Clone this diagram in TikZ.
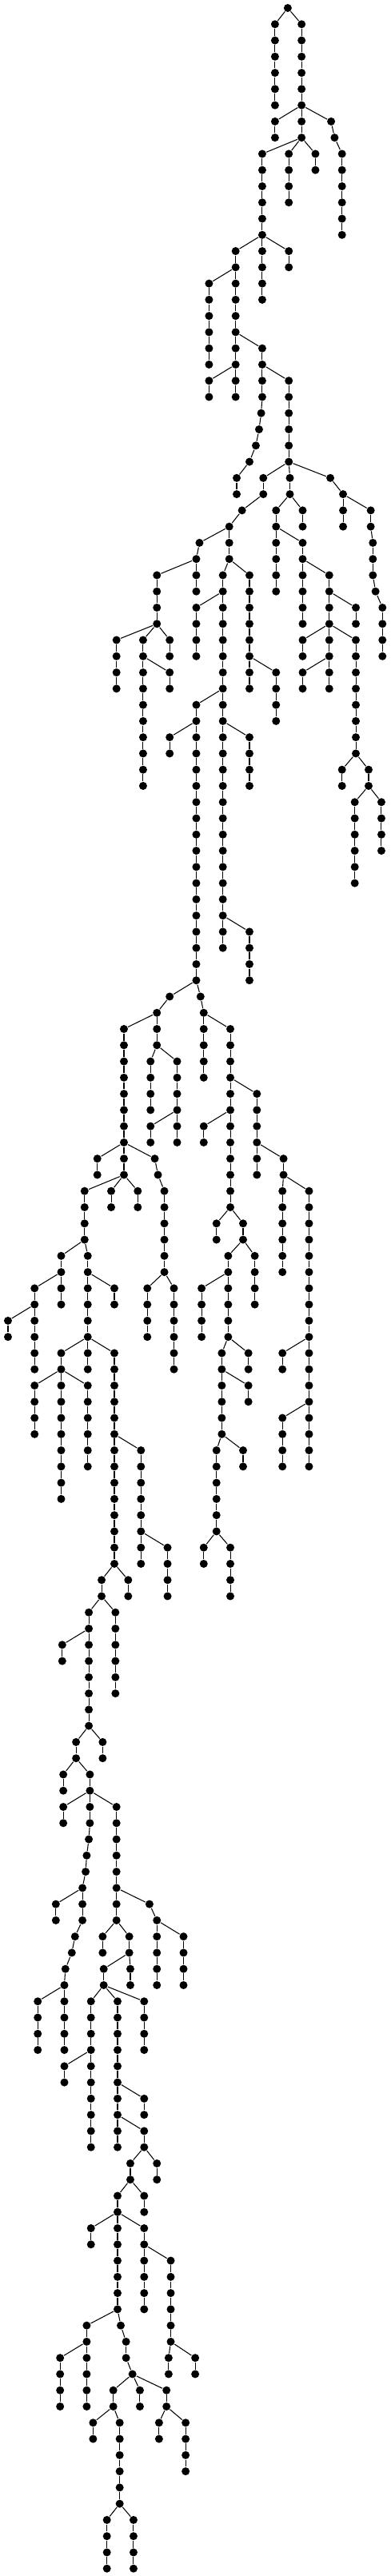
\documentclass[tikz,border=0pt]{standalone}
\usepackage{tikz}
\tikzset{
  dot/.style={circle, fill=black, inner sep=0pt, minimum size=0.1cm},
  link/.style={line width=0.3pt, color=black}
}
% vertical run of dots at one x, from one level to another
\newcommand{\stalk}[3]{%
  \foreach \lv in {#2,...,#3}{%
    \node[dot] (v#1-\lv) at (#1,\lv) {};
    \ifnum\lv>#2\relax
      \pgfmathtruncatemacro{\plv}{\lv-1}%
      \draw[link] (v#1-\plv) -- (v#1-\lv);
    \fi}}
\newcommand{\twig}[2]{\draw[link] (v#1) -- (v#2);}

\begin{document}
\begin{tikzpicture}[x=0.003333cm, y=-0.2027cm]
  \useasboundingbox (0,-0.4933) rectangle (1470,158.46);
  \stalk{1082}{0}{0}
  \stalk{1034}{1}{6} \twig{1082-0}{1034-1}
  \stalk{1134}{1}{8} \twig{1082-0}{1134-1}
  \stalk{1034}{7}{8} \twig{1134-6}{1034-7}
  \stalk{1245}{7}{7} \twig{1134-6}{1245-7}
  \stalk{1258}{8}{8} \twig{1245-7}{1258-8}
  \stalk{1286}{9}{14} \twig{1258-8}{1286-9}
  \stalk{986}{9}{18} \twig{1134-8}{986-9}
  \stalk{1086}{9}{12} \twig{1134-8}{1086-9}
  \stalk{1186}{9}{10} \twig{1134-8}{1186-9}
  \stalk{1086}{15}{16} \twig{986-14}{1086-15}
  \stalk{886}{15}{24} \twig{986-14}{886-15}
  \stalk{786}{17}{22} \twig{886-16}{786-17}
  \stalk{986}{21}{24} \twig{886-20}{986-21}
  \stalk{786}{23}{24} \twig{886-22}{786-23}
  \stalk{1086}{23}{28} \twig{986-22}{1086-23}
  \stalk{982}{25}{25} \twig{986-24}{982-25}
  \stalk{974}{26}{26} \twig{982-25}{974-26}
  \stalk{962}{27}{27} \twig{974-26}{962-27}
  \stalk{938}{28}{28} \twig{962-27}{938-28}
  \stalk{890}{29}{30} \twig{938-28}{890-29}
  \stalk{990}{29}{30} \twig{1086-28}{990-29}
  \stalk{910}{31}{31} \twig{990-30}{910-31}
  \stalk{862}{32}{34} \twig{910-31}{862-32}
  \stalk{750}{33}{33} \twig{862-32}{750-33}
  \stalk{738}{34}{36} \twig{750-33}{738-34}
  \stalk{590}{35}{38} \twig{738-34}{590-35}
  \stalk{438}{39}{42} \twig{590-38}{438-39}
  \stalk{538}{39}{48} \twig{590-38}{538-39}
  \stalk{638}{39}{40} \twig{590-38}{638-39}
  \stalk{638}{41}{42} \twig{538-40}{638-41}
  \stalk{838}{35}{58} \twig{862-34}{838-35}
  \stalk{738}{37}{40} \twig{838-36}{738-37}
  \stalk{938}{35}{42} \twig{862-34}{938-35}
  \stalk{1038}{41}{44} \twig{938-40}{1038-41}
  \stalk{738}{43}{60} \twig{838-42}{738-43}
  \stalk{638}{45}{46} \twig{738-44}{638-45}
  \stalk{938}{45}{48} \twig{838-44}{938-45}
  \stalk{938}{57}{60} \twig{838-56}{938-57}
  \stalk{1090}{29}{30} \twig{1086-28}{1090-29}
  \stalk{1138}{31}{32} \twig{1090-30}{1138-31}
  \stalk{1038}{31}{36} \twig{1090-30}{1038-31}
  \stalk{1138}{33}{38} \twig{1038-32}{1138-33}
  \stalk{1238}{35}{42} \twig{1138-34}{1238-35}
  \stalk{1338}{37}{38} \twig{1238-36}{1338-37}
  \stalk{1138}{39}{40} \twig{1238-38}{1138-39}
  \stalk{1138}{41}{42} \twig{1238-40}{1138-41}
  \stalk{1338}{39}{46} \twig{1238-38}{1338-39}
  \stalk{1286}{47}{48} \twig{1338-46}{1286-47}
  \stalk{1386}{47}{48} \twig{1338-46}{1386-47}
  \stalk{1334}{49}{54} \twig{1386-48}{1334-49}
  \stalk{1434}{49}{52} \twig{1386-48}{1434-49}
  \stalk{1242}{29}{29} \twig{1086-28}{1242-29}
  \stalk{1290}{30}{32} \twig{1242-29}{1290-30}
  \stalk{1394}{31}{32} \twig{1290-30}{1394-31}
  \stalk{1402}{33}{35} \twig{1394-32}{1402-33}
  \stalk{1412}{36}{36} \twig{1402-35}{1412-36}
  \stalk{1438}{37}{40} \twig{1412-36}{1438-37}
  \stalk{638}{61}{61} \twig{738-60}{638-61}
  \stalk{590}{62}{64} \twig{638-61}{590-62}
  \stalk{466}{63}{72} \twig{590-62}{466-63}
  \stalk{566}{65}{68} \twig{590-64}{566-65}
  \stalk{666}{65}{70} \twig{590-64}{666-65}
  \stalk{566}{69}{70} \twig{666-68}{566-69}
  \stalk{754}{61}{61} \twig{738-60}{754-61}
  \stalk{766}{62}{66} \twig{754-61}{766-62}
  \stalk{866}{63}{74} \twig{766-62}{866-63}
  \stalk{966}{67}{72} \twig{866-66}{966-67}
  \stalk{766}{69}{70} \twig{866-68}{766-69}
  \stalk{1066}{71}{72} \twig{966-70}{1066-71}
  \stalk{1062}{73}{78} \twig{1066-72}{1062-73}
  \stalk{1162}{73}{90} \twig{1066-72}{1162-73}
  \stalk{1062}{83}{84} \twig{1162-82}{1062-83}
  \stalk{1062}{87}{90} \twig{1162-86}{1062-87}
  \stalk{814}{75}{76} \twig{866-74}{814-75}
  \stalk{914}{75}{76} \twig{866-74}{914-75}
  \stalk{858}{77}{82} \twig{914-76}{858-77}
  \stalk{958}{77}{80} \twig{914-76}{958-77}
  \stalk{758}{79}{82} \twig{858-78}{758-79}
  \stalk{834}{83}{88} \twig{858-82}{834-83}
  \stalk{934}{83}{84} \twig{858-82}{934-83}
  \stalk{934}{85}{86} \twig{834-84}{934-85}
  \stalk{814}{89}{94} \twig{834-88}{814-89}
  \stalk{914}{89}{90} \twig{834-88}{914-89}
  \stalk{766}{95}{96} \twig{814-94}{766-95}
  \stalk{866}{95}{98} \twig{814-94}{866-95}
  \stalk{366}{71}{72} \twig{466-70}{366-71}
  \stalk{582}{71}{71} \twig{466-70}{582-71}
  \stalk{594}{72}{72} \twig{582-71}{594-72}
  \stalk{618}{73}{78} \twig{594-72}{618-73}
  \stalk{554}{79}{82} \twig{618-78}{554-79}
  \stalk{654}{79}{84} \twig{618-78}{654-79}
  \stalk{318}{73}{76} \twig{466-72}{318-73}
  \stalk{418}{73}{74} \twig{466-72}{418-73}
  \stalk{518}{73}{74} \twig{466-72}{518-73}
  \stalk{230}{77}{80} \twig{318-76}{230-77}
  \stalk{330}{77}{84} \twig{318-76}{330-77}
  \stalk{130}{79}{84} \twig{230-78}{130-79}
  \stalk{30}{81}{82} \twig{130-80}{30-81}
  \stalk{430}{79}{80} \twig{330-78}{430-79}
  \stalk{230}{83}{92} \twig{330-82}{230-83}
  \stalk{130}{85}{88} \twig{230-84}{130-85}
  \stalk{330}{85}{90} \twig{230-84}{330-85}
  \stalk{430}{83}{96} \twig{330-82}{430-83}
  \stalk{530}{89}{96} \twig{430-88}{530-89}
  \stalk{630}{95}{98} \twig{530-94}{630-95}
  \stalk{382}{97}{98} \twig{430-96}{382-97}
  \stalk{482}{97}{98} \twig{430-96}{482-97}
  \stalk{334}{99}{106} \twig{382-98}{334-99}
  \stalk{434}{99}{104} \twig{382-98}{434-99}
  \stalk{234}{101}{102} \twig{334-100}{234-101}
  \stalk{386}{107}{108} \twig{334-106}{386-107}
  \stalk{286}{107}{108} \twig{334-106}{286-107}
  \stalk{238}{109}{110} \twig{286-108}{238-109}
  \stalk{338}{109}{112} \twig{286-108}{338-109}
  \stalk{238}{111}{112} \twig{338-110}{238-111}
  \stalk{334}{113}{113} \twig{338-112}{334-113}
  \stalk{326}{114}{114} \twig{334-113}{326-114}
  \stalk{322}{115}{115} \twig{326-114}{322-115}
  \stalk{310}{116}{118} \twig{322-115}{310-116}
  \stalk{210}{117}{118} \twig{310-116}{210-117}
  \stalk{282}{119}{119} \twig{310-118}{282-119}
  \stalk{270}{120}{120} \twig{282-119}{270-120}
  \stalk{246}{121}{121} \twig{270-120}{246-121}
  \stalk{242}{122}{126} \twig{246-121}{242-122}
  \stalk{142}{123}{126} \twig{242-122}{142-123}
  \stalk{438}{111}{118} \twig{338-110}{438-111}
  \stalk{562}{117}{117} \twig{438-116}{562-117}
  \stalk{590}{118}{122} \twig{562-117}{590-118}
  \stalk{690}{119}{122} \twig{590-118}{690-119}
  \stalk{386}{119}{120} \twig{438-118}{386-119}
  \stalk{486}{119}{120} \twig{438-118}{486-119}
  \stalk{490}{121}{122} \twig{486-120}{490-121}
  \stalk{390}{121}{122} \twig{486-120}{390-121}
  \stalk{342}{123}{132} \twig{390-122}{342-123}
  \stalk{242}{127}{128} \twig{342-126}{242-127}
  \stalk{442}{123}{132} \twig{390-122}{442-123}
  \stalk{542}{123}{126} \twig{390-122}{542-123}
  \stalk{542}{129}{130} \twig{442-128}{542-129}
  \stalk{542}{131}{132} \twig{442-130}{542-131}
  \stalk{590}{133}{134} \twig{542-132}{590-133}
  \stalk{490}{133}{134} \twig{542-132}{490-133}
  \stalk{542}{135}{136} \twig{490-134}{542-135}
  \stalk{442}{135}{142} \twig{490-134}{442-135}
  \stalk{342}{137}{138} \twig{442-136}{342-137}
  \stalk{542}{137}{142} \twig{442-136}{542-137}
  \stalk{642}{139}{144} \twig{542-138}{642-139}
  \stalk{634}{145}{146} \twig{642-144}{634-145}
  \stalk{734}{145}{146} \twig{642-144}{734-145}
  \stalk{326}{143}{148} \twig{442-142}{326-143}
  \stalk{226}{145}{148} \twig{326-144}{226-145}
  \stalk{454}{143}{143} \twig{442-142}{454-143}
  \stalk{474}{144}{145} \twig{454-143}{474-144}
  \stalk{498}{146}{146} \twig{474-145}{498-146}
  \stalk{426}{147}{148} \twig{498-146}{426-147}
  \stalk{526}{147}{148} \twig{498-146}{526-147}
  \stalk{626}{147}{148} \twig{498-146}{626-147}
  \stalk{350}{149}{150} \twig{426-148}{350-149}
  \stalk{450}{149}{154} \twig{426-148}{450-149}
  \stalk{402}{155}{158} \twig{450-154}{402-155}
  \stalk{502}{155}{158} \twig{450-154}{502-155}
  \stalk{598}{149}{150} \twig{626-148}{598-149}
  \stalk{698}{149}{152} \twig{626-148}{698-149}
\end{tikzpicture}
\end{document}
